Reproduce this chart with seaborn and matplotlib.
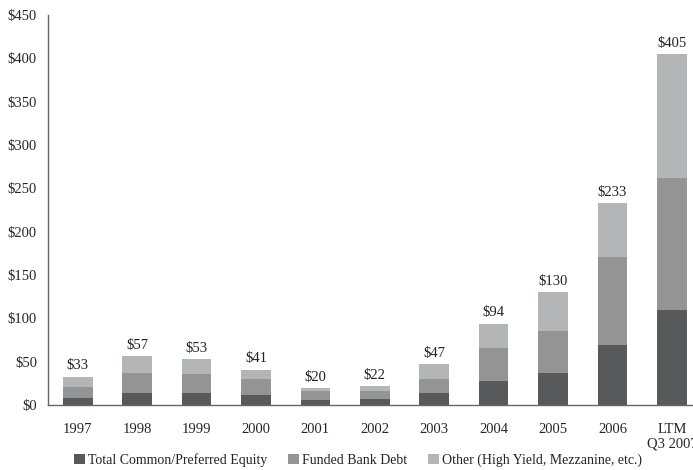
import numpy as np
import pandas as pd
import matplotlib
matplotlib.use("Agg")
import matplotlib.pyplot as plt
import seaborn as sns
from matplotlib.patches import Patch

years = ["1997", "1998", "1999", "2000", "2001", "2002", "2003", "2004", "2005", "2006", "LTM\nQ3 2007"]
equity = [8, 14, 14, 12, 6, 7, 14, 28, 37, 69, 110]
bank_debt = [13, 23, 22, 18, 10, 9, 16, 38, 48, 102, 152]
other = [12, 20, 17, 11, 4, 6, 17, 28, 45, 62, 143]
totals = [33, 57, 53, 41, 20, 22, 47, 94, 130, 233, 405]

labels = ["Total Common/Preferred Equity", "Funded Bank Debt", "Other (High Yield, Mezzanine, etc.)"]
colors = ["#58595b", "#949494", "#b4b5b7"]

df = pd.DataFrame({"year": years, "equity": equity, "bank": bank_debt, "other": other})
df["lvl1"] = df["equity"]
df["lvl2"] = df["equity"] + df["bank"]
df["lvl3"] = df["lvl2"] + df["other"]

sns.set_style("white")
plt.rcParams["font.family"] = ["Liberation Serif", "DejaVu Serif"]
plt.rcParams["text.color"] = "#222222"

fig = plt.figure(figsize=(6.93, 4.70), dpi=100)
ax = fig.add_axes([0.0693, 0.138, 0.943, 0.830])

# stacked look: draw cumulative heights from tallest to shortest
for col, c in zip(["lvl3", "lvl2", "lvl1"], colors[::-1]):
    sns.barplot(data=df, x="year", y=col, color=c, width=0.5, saturation=1,
                edgecolor="none", linewidth=0, ax=ax)

ax.bar_label(ax.containers[0], labels=[f"${v}" for v in totals], padding=3, fontsize=10.5)

ax.set_ylim(0, 450)
ax.set_xlim(-0.5, len(years) - 0.5)
ax.set_yticks(np.arange(0, 451, 50))
ax.set_yticklabels([f"${v}" for v in range(0, 451, 50)], fontsize=10.5)
ax.set_xticks(range(len(years)))
ax.set_xticklabels(years, fontsize=10.5, linespacing=1.15)
ax.set_xticks(np.arange(-0.5, len(years), 1), minor=True)
ax.tick_params(axis="x", which="major", length=0, pad=13)
ax.tick_params(axis="x", which="minor", length=5, width=1, color="#555555", direction="out")
ax.tick_params(axis="y", length=5, width=1, color="#555555", direction="out", pad=3)
ax.set_xlabel("")
ax.set_ylabel("")

for s in ["top", "right"]:
    ax.spines[s].set_visible(False)
for s in ["left", "bottom"]:
    ax.spines[s].set_color("#666666")
    ax.spines[s].set_linewidth(1)

handles = [Patch(facecolor=c, edgecolor="none") for c in colors]
fig.legend(handles, labels, loc="lower center", bbox_to_anchor=(0.517, -0.02), ncol=3,
           frameon=False, fontsize=10, handlelength=0.75, handleheight=0.75,
           handletextpad=0.25, columnspacing=1.5)

fig.savefig("out.png", dpi=100)
